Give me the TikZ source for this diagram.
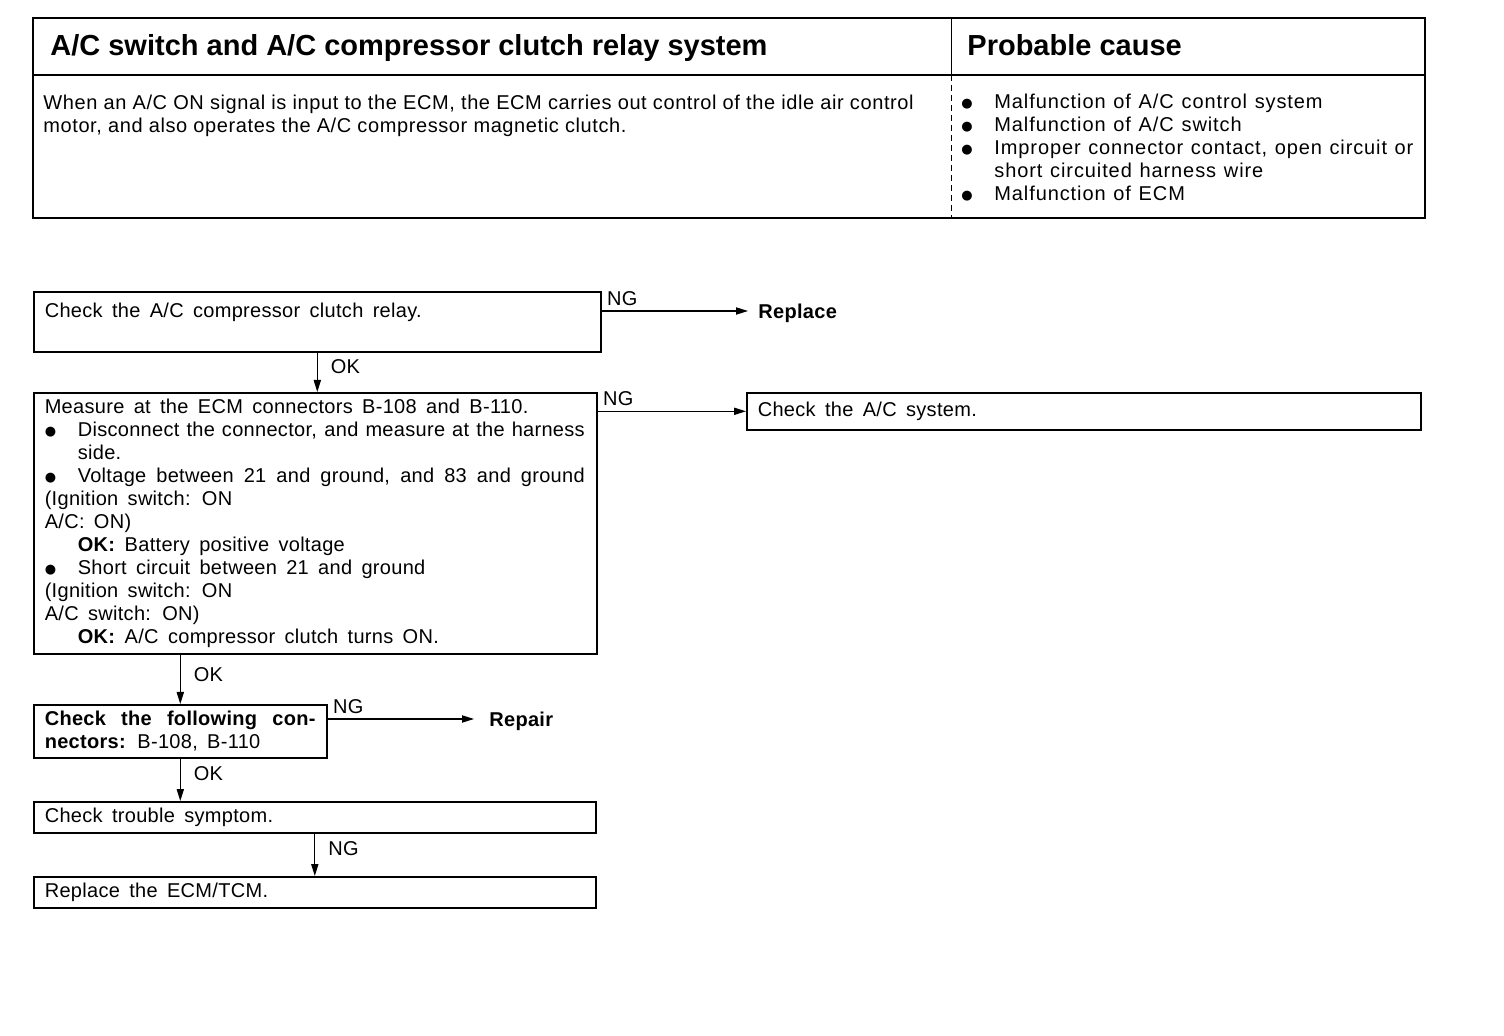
\documentclass[tikz,border=0pt]{standalone}
\usepackage{fontspec}
\setmainfont{Liberation Sans}
\newfontfamily\flowfont{Liberation Sans}[LetterSpace=1.5, WordSpace=1.6]
\newfontfamily\descfont{Liberation Sans}[LetterSpace=3]
\newfontfamily\causefont{Liberation Sans}[LetterSpace=4.5, WordSpace=1.2]
\newfontfamily\symfont{DejaVu Sans}
\usetikzlibrary{arrows.meta, positioning, calc}
\newcommand{\blt}{\raisebox{0.5pt}{\symfont\fontsize{6.5}{6.5}\selectfont ●}}
\newcommand{\itm}{\makebox[16.5pt][l]{\blt}}
\newcommand{\ind}{\hspace*{16.5pt}}

\begin{document}
\begin{tikzpicture}[
  x=0.5pt, y=-0.5pt,
  font=\flowfont\fontsize{10}{11.5}\selectfont,
  box/.style={draw, line width=0.8pt, anchor=north west, align=left,
              inner xsep=5.5pt, inner ysep=0pt,
              execute at begin node={\spaceskip=0pt\xspaceskip=0pt}},
  res/.style={anchor=west, inner xsep=5pt, text depth=0pt,
              font=\flowfont\fontsize{10}{11.5}\selectfont\bfseries},
  lab/.style={inner sep=2.5pt},
  vl/.style={right, inner sep=0pt, xshift=6.5pt},
  a/.style={-{Triangle[length=6pt, width=3.6pt]}, line width=0.6pt},
  hd/.style={anchor=base west, inner sep=0pt, font=\fontsize{14.5}{17}\selectfont\bfseries},
  txt/.style={anchor=north west, inner sep=0pt, align=left}
]
\useasboundingbox (0,0) rectangle (1504,1036);

% ---------- table: system and probable cause ----------
\draw[line width=1pt] (33,18) rectangle (1425,218);
\draw[line width=1pt] (33,75) -- (1425,75);
\draw[line width=0.4pt] (951,18) -- (951,75);
\draw[line width=0.4pt, densely dashed] (951,75) -- (951,218);

\node[hd] (title) at (50,56) {A/C switch and A/C compressor clutch relay system};
\node[hd] (cause) at (967,56) {Probable cause};
\node[txt, font=\descfont\fontsize{10}{11.5}\selectfont] (desc) at (43,95)
  {When an A/C ON signal is input to the ECM, the ECM carries out control of the idle air control\\
   motor, and also operates the A/C compressor magnetic clutch.};
\node[txt, font=\causefont\fontsize{10}{11.5}\selectfont] (causes) at (961,94)
  {\itm Malfunction of A/C control system\\
   \itm Malfunction of A/C switch\\
   \itm\makebox[209.5pt][s]{Improper connector contact, open circuit or}\\
   \ind short circuited harness wire\\
   \itm Malfunction of ECM};

% ---------- flow chart ----------
\node[box, text width=272.5pt, minimum height=30pt] (relay) at (33,291)
  {Check the A/C compressor clutch relay.\\ \mbox{}};
\node[res] (replace) at (748,311) {Replace};

\node[box, text width=270.5pt, minimum height=130.5pt] (ecm) at (33,392)
  {Measure at the ECM connectors B-108 and B-110.\\
   \itm\makebox[253.5pt][s]{Disconnect the connector, and measure at the harness}\\
   \ind side.\\
   \itm\makebox[253.5pt][s]{Voltage between 21 and ground, and 83 and ground}\\
   (Ignition switch: ON\\
   A/C: ON)\\
   \ind\textbf{OK:} Battery positive voltage\\
   \itm Short circuit between 21 and ground\\
   (Ignition switch: ON\\
   A/C switch: ON)\\
   \ind\textbf{OK:} A/C compressor clutch turns ON.};
\node[box, text width=326pt, minimum height=18.5pt] (acsys) at (746,392) {Check the A/C system.};

\node[box, text width=135.5pt, minimum height=26.5pt] (conn) at (33,704)
  {\makebox[135.5pt][s]{\textbf{Check the following con-}}\\
   \textbf{nectors:} B-108, B-110};
\node[res, inner xsep=7.5pt] (repair) at (474,719) {Repair};

\node[box, text width=270pt, minimum height=15.5pt] (symp) at (33,801) {Check trouble symptom.};
\node[box, text width=270pt, minimum height=15.5pt] (ecmtcm) at (33,876) {Replace the ECM/TCM.};

% ---------- connectors ----------
\draw[a] (relay.east |- replace.west) node[lab, above right] {NG} -- (replace.west);
\draw[a] (relay.south) -- node[vl, pos=0.35] {OK} (relay.south |- ecm.north);
\draw[a] (ecm.east |- acsys.west) node[lab, above right] {NG} -- (acsys.west);
\draw[a] (conn.north |- ecm.south) -- node[vl, pos=0.4] {OK} (conn.north);
\draw[a] (conn.east |- repair.west) node[lab, above right] {NG} -- (repair.west);
\draw[a] (conn.south) -- node[vl, pos=0.36] {OK} (conn.south |- symp.north);
\draw[a] (symp.south) -- node[vl, pos=0.36] {NG} (ecmtcm.north);

\end{tikzpicture}
\end{document}
